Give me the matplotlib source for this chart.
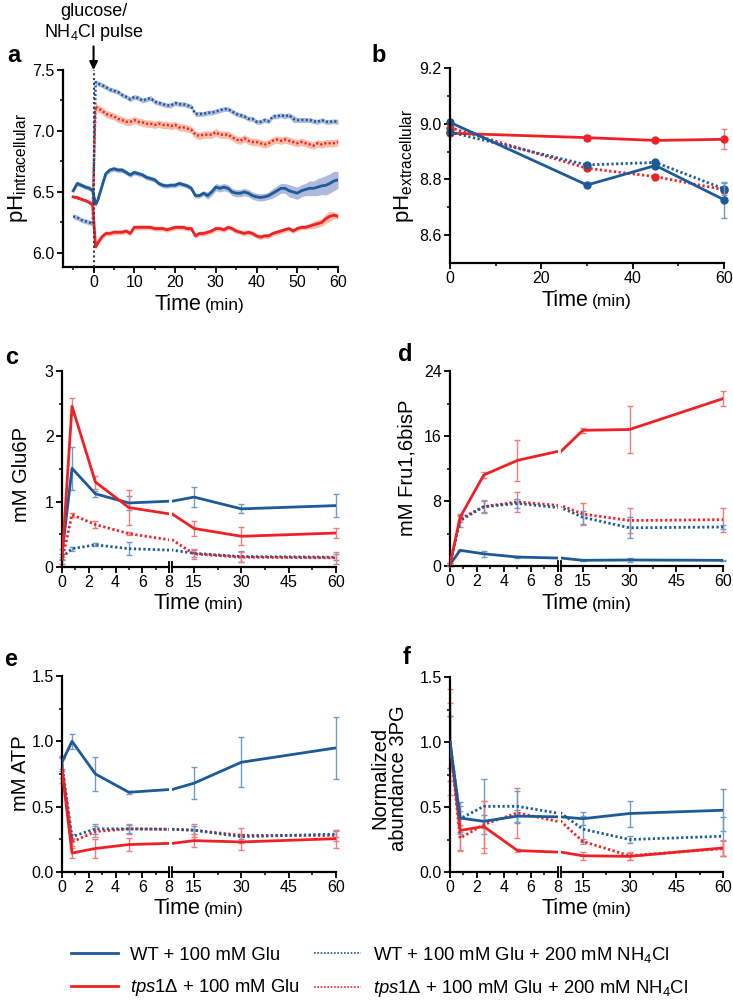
import matplotlib
matplotlib.use("Agg")
import matplotlib.pyplot as plt
from matplotlib.lines import Line2D
from matplotlib.ticker import FixedLocator

plt.rcParams['font.family'] = ['Liberation Sans', 'DejaVu Sans']
plt.rcParams['mathtext.fontset'] = 'custom'
plt.rcParams['mathtext.rm'] = 'Liberation Sans'
plt.rcParams['mathtext.it'] = 'Liberation Sans:italic'
plt.rcParams['mathtext.bf'] = 'Liberation Sans:bold'
plt.rcParams['mathtext.default'] = 'regular'

# ---------------- data ----------------
# panel a: intracellular pH traces (pre-pulse samples, then post-pulse)
time_a = [-5, -4, -3, -2, -1, -0.2, 0.5] + list(range(1, 61))

wt_glu_a = [6.51, 6.57, 6.555, 6.54, 6.53, 6.51, 6.40,
            6.43, 6.54, 6.65, 6.68, 6.69, 6.68, 6.68, 6.66, 6.64, 6.66,
            6.65, 6.64, 6.62, 6.61, 6.60, 6.57, 6.555, 6.55, 6.555, 6.555,
            6.57, 6.56, 6.55, 6.53, 6.47, 6.47, 6.49, 6.47, 6.50, 6.54,
            6.53, 6.54, 6.53, 6.50, 6.49, 6.49, 6.50, 6.49, 6.47, 6.46,
            6.455, 6.46, 6.47, 6.49, 6.51, 6.53, 6.53, 6.51, 6.50, 6.49,
            6.51, 6.52, 6.53, 6.53, 6.54, 6.55, 6.555, 6.57, 6.59, 6.60]
wt_glu_a_err = [0.02, 0.02, 0.02, 0.02, 0.02, 0.02, 0.02,
                0.02, 0.02, 0.02, 0.02, 0.02, 0.02, 0.02, 0.02, 0.02, 0.02,
                0.02, 0.02, 0.02, 0.02, 0.02, 0.02, 0.02, 0.02, 0.02, 0.02,
                0.02, 0.02, 0.02, 0.02, 0.02, 0.02, 0.02, 0.03, 0.03, 0.03,
                0.03, 0.03, 0.03, 0.03, 0.03, 0.03, 0.03, 0.03, 0.03, 0.03,
                0.03, 0.03, 0.03, 0.04, 0.04, 0.04, 0.04, 0.05, 0.05, 0.05,
                0.05, 0.05, 0.06, 0.06, 0.07, 0.07, 0.08, 0.08, 0.08, 0.07]

tps_glu_a = [6.46, 6.455, 6.44, 6.43, 6.415, 6.39, 6.05,
             6.08, 6.13, 6.16, 6.16, 6.17, 6.17, 6.17, 6.18, 6.16, 6.21,
             6.21, 6.21, 6.21, 6.21, 6.20, 6.20, 6.20, 6.19, 6.20, 6.21,
             6.21, 6.21, 6.20, 6.20, 6.14, 6.16, 6.16, 6.17, 6.18, 6.20,
             6.20, 6.19, 6.21, 6.20, 6.18, 6.17, 6.16, 6.17, 6.16, 6.14,
             6.13, 6.14, 6.14, 6.16, 6.17, 6.18, 6.19, 6.20, 6.18, 6.20,
             6.21, 6.21, 6.22, 6.23, 6.24, 6.25, 6.28, 6.30, 6.31, 6.30]
tps_glu_a_err = [0.01, 0.01, 0.01, 0.01, 0.01, 0.01, 0.02,
                 0.02, 0.02, 0.02, 0.02, 0.02, 0.02, 0.02, 0.02, 0.02, 0.02,
                 0.02, 0.02, 0.02, 0.02, 0.02, 0.02, 0.02, 0.02, 0.02, 0.02,
                 0.02, 0.02, 0.02, 0.02, 0.02, 0.02, 0.02, 0.02, 0.02, 0.02,
                 0.02, 0.02, 0.02, 0.02, 0.02, 0.02, 0.02, 0.02, 0.02, 0.02,
                 0.02, 0.02, 0.02, 0.02, 0.02, 0.02, 0.02, 0.02, 0.02, 0.02,
                 0.02, 0.02, 0.02, 0.03, 0.03, 0.03, 0.04, 0.04, 0.03, 0.02]

wt_nh4_a = [6.30, 6.29, 6.27, 6.26, 6.25, 6.24, 7.40,
            7.39, 7.377, 7.36, 7.34, 7.33, 7.32, 7.295, 7.28, 7.26, 7.28,
            7.27, 7.25, 7.26, 7.27, 7.24, 7.23, 7.22, 7.21, 7.21, 7.23,
            7.22, 7.22, 7.21, 7.20, 7.14, 7.14, 7.14, 7.15, 7.15, 7.16,
            7.17, 7.18, 7.18, 7.16, 7.14, 7.13, 7.12, 7.10, 7.10, 7.075,
            7.075, 7.09, 7.08, 7.12, 7.12, 7.13, 7.12, 7.13, 7.10, 7.09,
            7.09, 7.09, 7.09, 7.08, 7.075, 7.09, 7.075, 7.075, 7.08, 7.075]
wt_nh4_a_err = [0.02, 0.02, 0.02, 0.02, 0.02, 0.02, 0.02,
                0.02, 0.02, 0.02, 0.02, 0.02, 0.02, 0.02, 0.02, 0.02, 0.02,
                0.02, 0.02, 0.02, 0.02, 0.02, 0.02, 0.02, 0.02, 0.02, 0.02,
                0.02, 0.02, 0.02, 0.02, 0.02, 0.02, 0.02, 0.02, 0.02, 0.02,
                0.02, 0.02, 0.02, 0.02, 0.02, 0.02, 0.02, 0.02, 0.02, 0.02,
                0.02, 0.02, 0.02, 0.02, 0.02, 0.02, 0.02, 0.02, 0.03, 0.02,
                0.02, 0.02, 0.02, 0.02, 0.02, 0.02, 0.02, 0.02, 0.02, 0.02]

tps_nh4_a = [6.46, 6.45, 6.44, 6.43, 6.41, 6.40, 7.20,
             7.185, 7.17, 7.14, 7.13, 7.12, 7.10, 7.09, 7.075, 7.075, 7.09,
             7.075, 7.07, 7.06, 7.06, 7.05, 7.06, 7.05, 7.05, 7.04, 7.05,
             7.03, 7.03, 7.02, 7.01, 6.97, 6.96, 6.97, 6.97, 6.97, 6.99,
             6.97, 6.97, 6.97, 6.95, 6.93, 6.92, 6.94, 6.92, 6.91, 6.91,
             6.90, 6.89, 6.90, 6.92, 6.93, 6.92, 6.93, 6.92, 6.91, 6.90,
             6.91, 6.90, 6.89, 6.88, 6.90, 6.89, 6.90, 6.90, 6.90, 6.91]
tps_nh4_a_err = [0.01, 0.01, 0.01, 0.01, 0.01, 0.01, 0.03,
                 0.03, 0.03, 0.03, 0.03, 0.03, 0.03, 0.03, 0.03, 0.03, 0.03,
                 0.03, 0.03, 0.03, 0.03, 0.03, 0.03, 0.03, 0.03, 0.03, 0.03,
                 0.03, 0.03, 0.03, 0.03, 0.03, 0.03, 0.03, 0.03, 0.03, 0.03,
                 0.03, 0.03, 0.03, 0.03, 0.03, 0.03, 0.03, 0.03, 0.03, 0.03,
                 0.03, 0.03, 0.03, 0.03, 0.03, 0.03, 0.03, 0.03, 0.03, 0.03,
                 0.03, 0.03, 0.03, 0.03, 0.03, 0.03, 0.03, 0.03, 0.03, 0.03]

# panel b: extracellular pH
time_b = [0, 30, 45, 60]
wt_glu_b = [9.005, 8.78, 8.85, 8.727]
wt_glu_b_err = [0.005, 0.005, 0.005, 0.065]
tps_glu_b = [8.966, 8.95, 8.94, 8.944]
tps_glu_b_err = [0.005, 0.008, 0.006, 0.036]
wt_nh4_b = [8.97, 8.852, 8.861, 8.766]
wt_nh4_b_err = [0.005, 0.006, 0.006, 0.022]
tps_nh4_b = [8.986, 8.84, 8.81, 8.763]
tps_nh4_b_err = [0.005, 0.005, 0.005, 0.01]

# panels c-f: metabolites
time_m = [0, 0.75, 2.5, 5, 15, 30, 60]

wt_glu_c = [0.20, 1.51, 1.12, 0.98, 1.07, 0.89, 0.94]
wt_glu_c_err = [0.08, 0.33, 0.05, 0.10, 0.15, 0.07, 0.18]
tps_glu_c = [0.12, 2.46, 1.30, 0.91, 0.59, 0.47, 0.52]
tps_glu_c_err = [0.08, 0.13, 0.10, 0.27, 0.11, 0.14, 0.07]
wt_nh4_c = [0.15, 0.28, 0.34, 0.28, 0.21, 0.16, 0.15]
wt_nh4_c_err = [0.05, 0.03, 0.02, 0.10, 0.05, 0.08, 0.05]
tps_nh4_c = [0.10, 0.80, 0.65, 0.51, 0.20, 0.15, 0.14]
tps_nh4_c_err = [0.05, 0.03, 0.06, 0.02, 0.08, 0.08, 0.09]

wt_glu_d = [0.2, 1.93, 1.5, 1.1, 0.7, 0.74, 0.7]
wt_glu_d_err = [0.2, 0.1, 0.4, 0.1, 0.1, 0.3, 0.1]
tps_glu_d = [0.2, 6.0, 11.2, 13.0, 16.7, 16.8, 20.6]
tps_glu_d_err = [0.2, 0.3, 0.4, 2.5, 0.3, 2.9, 0.95]
wt_nh4_d = [0.2, 5.6, 7.3, 7.7, 6.0, 4.7, 4.8]
wt_nh4_d_err = [0.2, 0.8, 0.7, 0.6, 0.8, 1.3, 0.2]
tps_nh4_d = [0.2, 5.8, 7.3, 7.9, 6.4, 5.6, 5.7]
tps_nh4_d_err = [0.2, 0.4, 0.8, 1.2, 1.3, 1.5, 1.5]

wt_glu_e = [0.84, 1.00, 0.75, 0.61, 0.68, 0.84, 0.95]
wt_glu_e_err = [0.05, 0.055, 0.13, 0.01, 0.12, 0.19, 0.24]
tps_glu_e = [0.78, 0.145, 0.18, 0.21, 0.24, 0.23, 0.255]
tps_glu_e_err = [0.10, 0.04, 0.07, 0.05, 0.05, 0.06, 0.07]
wt_nh4_e = [0.82, 0.27, 0.33, 0.33, 0.32, 0.27, 0.29]
wt_nh4_e_err = [0.05, 0.02, 0.04, 0.03, 0.03, 0.02, 0.02]
tps_nh4_e = [0.80, 0.23, 0.31, 0.33, 0.32, 0.28, 0.28]
tps_nh4_e_err = [0.08, 0.03, 0.04, 0.04, 0.05, 0.06, 0.04]

wt_glu_f = [1.0, 0.415, 0.39, 0.43, 0.41, 0.45, 0.475]
wt_glu_f_err = [0.2, 0.12, 0.05, 0.05, 0.05, 0.10, 0.16]
tps_glu_f = [1.0, 0.32, 0.35, 0.165, 0.125, 0.12, 0.185]
tps_glu_f_err = [0.41, 0.15, 0.20, 0.01, 0.03, 0.03, 0.06]
wt_nh4_f = [1.0, 0.41, 0.505, 0.505, 0.33, 0.25, 0.275]
wt_nh4_f_err = [0.2, 0.10, 0.21, 0.12, 0.10, 0.03, 0.15]
tps_nh4_f = [1.0, 0.26, 0.365, 0.455, 0.235, 0.125, 0.18]
tps_nh4_f_err = [0.3, 0.10, 0.18, 0.19, 0.02, 0.03, 0.06]

# ---------------- style ----------------
BLUE = '#1c5a98'
RED = '#ee2226'
BLUE_ERR = '#6f9ccb'
RED_ERR = '#f27c7c'
BLUE_BAND = '#9aa8d4'
RED_BAND = '#f8ab90'
DOT = (0, (0.8, 0.9))

styles = {
    'wt_glu': (BLUE, BLUE_ERR, BLUE_BAND, '-'),
    'tps_glu': (RED, RED_ERR, RED_BAND, '-'),
    'wt_nh4': (BLUE, BLUE_ERR, BLUE_BAND, DOT),
    'tps_nh4': (RED, RED_ERR, RED_BAND, DOT),
}

W, H = 733, 1002
TICK_FS = 11.5
LABEL_FS = 14.5

fig = plt.figure(figsize=(W / 100, H / 100), dpi=100)


def box(l, r, t, b):
    return [l / W, 1 - b / H, (r - l) / W, (b - t) / H]


def style_axes(ax):
    for s in ('top', 'right'):
        ax.spines[s].set_visible(False)
    for s in ('left', 'bottom'):
        ax.spines[s].set_linewidth(1.6)
    ax.tick_params(which='major', direction='out', length=4, width=1.3,
                   labelsize=TICK_FS, pad=2)
    ax.tick_params(which='minor', direction='out', length=2.5, width=1.1)
    ax.set_facecolor('none')


def time_label(cx, base_y):
    fig.text((cx + 1) / W, 1 - base_y / H, 'Time', fontsize=15.5,
             ha='right', va='baseline')
    fig.text((cx + 5) / W, 1 - base_y / H, '(min)', fontsize=12.5,
             ha='left', va='baseline')


def ylabel(text, cx, cy, fs=LABEL_FS):
    fig.text(cx / W, 1 - cy / H, text, rotation=90, fontsize=fs,
             ha='center', va='center', linespacing=1.0)


def broken_axes(left, split, right, top, bottom, ylim, ymajor, yminor):
    ax1 = fig.add_axes(box(left, split, top, bottom))
    ax2 = fig.add_axes(box(split + 3, right, top, bottom))
    for ax in (ax1, ax2):
        style_axes(ax)
        ax.set_ylim(*ylim)
    ax1.set_xlim(0, 8)
    ax2.set_xlim(8, 60)
    ax1.xaxis.set_major_locator(FixedLocator([0, 2, 4, 6, 8]))
    ax1.xaxis.set_minor_locator(FixedLocator([1, 3, 5, 7]))
    ax2.xaxis.set_major_locator(FixedLocator([15, 30, 45, 60]))
    ax2.xaxis.set_minor_locator(FixedLocator([22.5, 37.5, 52.5]))
    ax1.yaxis.set_major_locator(FixedLocator(ymajor))
    ax1.yaxis.set_minor_locator(FixedLocator(yminor))
    ax2.spines['left'].set_visible(False)
    ax2.tick_params(axis='y', which='both', left=False, labelleft=False)
    # break marks
    d = 5 / (bottom - top)
    ax1.plot([1, 1], [-d, d], transform=ax1.transAxes, color='black',
             lw=1.3, clip_on=False)
    ax2.plot([0, 0], [-d, d], transform=ax2.transAxes, color='black',
             lw=1.3, clip_on=False)
    return ax1, ax2


def metabolite_panel(axes, series):
    for ax in axes:
        lo, hi = ax.get_xlim()
        for key, vals, errs in series:
            color, ecol, _, ls = styles[key]
            ax.plot(time_m, vals, color=color, ls=ls, lw=2, zorder=3)
            sel = [i for i, t in enumerate(time_m) if lo <= t <= hi]
            ax.errorbar([time_m[i] for i in sel], [vals[i] for i in sel],
                        yerr=[errs[i] for i in sel], fmt='none', ecolor=ecol,
                        elinewidth=1, capsize=2.5, capthick=1, zorder=2,
                        clip_on=False)


# ---------------- panel a ----------------
ax_a = fig.add_axes(box(63, 338, 70, 267))
style_axes(ax_a)
for key, vals, errs in [('wt_nh4', wt_nh4_a, wt_nh4_a_err),
                        ('tps_nh4', tps_nh4_a, tps_nh4_a_err),
                        ('wt_glu', wt_glu_a, wt_glu_a_err),
                        ('tps_glu', tps_glu_a, tps_glu_a_err)]:
    color, _, band, ls = styles[key]
    lower = [v - e for v, e in zip(vals, errs)]
    upper = [v + e for v, e in zip(vals, errs)]
    ax_a.fill_between(time_a, lower, upper, color=band, lw=0, alpha=0.8)
    ax_a.plot(time_a, vals, color=color, ls=ls, lw=2 if ls == '-' else 1.8)
ax_a.axvline(0, color='#3a3a4a', ls=(0, (1, 1.3)), lw=1.5, zorder=5)
ax_a.set_xlim(-7.5, 60)
ax_a.set_ylim(5.885, 7.5)
ax_a.xaxis.set_major_locator(FixedLocator([0, 10, 20, 30, 40, 50, 60]))
ax_a.xaxis.set_minor_locator(FixedLocator([-5, 5, 15, 25, 35, 45, 55]))
ax_a.yaxis.set_major_locator(FixedLocator([6.0, 6.5, 7.0, 7.5]))
ax_a.yaxis.set_minor_locator(FixedLocator([6.25, 6.75, 7.25]))
ax_a.annotate('', xy=(0, 7.5), xytext=(0, 17), textcoords='offset points',
              arrowprops=dict(arrowstyle='-|>', color='black', lw=1.5,
                              mutation_scale=12, shrinkA=0, shrinkB=0),
              annotation_clip=False)
fig.text(94 / W, 1 - 23 / H, 'glucose/\nNH$_4$Cl pulse', fontsize=13,
         ha='center', va='center', linespacing=1.15)
ylabel('pH$_{\\mathrm{intracellular}}$', 18, 168, fs=16)
time_label(200, 310)

# ---------------- panel b ----------------
ax_b = fig.add_axes(box(450, 724, 68, 263))
style_axes(ax_b)
for key, vals, errs in [('tps_glu', tps_glu_b, tps_glu_b_err),
                        ('tps_nh4', tps_nh4_b, tps_nh4_b_err),
                        ('wt_nh4', wt_nh4_b, wt_nh4_b_err),
                        ('wt_glu', wt_glu_b, wt_glu_b_err)]:
    color, ecol, _, ls = styles[key]
    ax_b.errorbar(time_b, vals, yerr=errs, fmt='none', ecolor=ecol,
                  elinewidth=1, capsize=2.5, capthick=1, clip_on=False)
    ax_b.plot(time_b, vals, color=color, ls=ls, lw=2, marker='o',
              markersize=5, clip_on=False)
ax_b.set_xlim(0, 60)
ax_b.set_ylim(8.5, 9.2)
ax_b.xaxis.set_major_locator(FixedLocator([0, 20, 40, 60]))
ax_b.xaxis.set_minor_locator(FixedLocator([10, 30, 50]))
ax_b.yaxis.set_major_locator(FixedLocator([8.6, 8.8, 9.0, 9.2]))
ax_b.yaxis.set_minor_locator(FixedLocator([8.7, 8.9, 9.1]))
ylabel('pH$_{\\mathrm{extracellular}}$', 404, 166, fs=16)
time_label(587, 306)

# ---------------- panel c ----------------
axes_c = broken_axes(62, 169, 336, 371, 567, (0, 3), [0, 1, 2, 3],
                     [0.5, 1.5, 2.5])
metabolite_panel(axes_c, [('wt_nh4', wt_nh4_c, wt_nh4_c_err),
                          ('tps_nh4', tps_nh4_c, tps_nh4_c_err),
                          ('wt_glu', wt_glu_c, wt_glu_c_err),
                          ('tps_glu', tps_glu_c, tps_glu_c_err)])
ylabel('mM Glu6P', 22, 475)
time_label(199, 609)

# ---------------- panel d ----------------
axes_d = broken_axes(450, 558, 723, 371, 566, (0, 24), [0, 8, 16, 24],
                     [4, 12, 20])
metabolite_panel(axes_d, [('wt_glu', wt_glu_d, wt_glu_d_err),
                          ('tps_nh4', tps_nh4_d, tps_nh4_d_err),
                          ('wt_nh4', wt_nh4_d, wt_nh4_d_err),
                          ('tps_glu', tps_glu_d, tps_glu_d_err)])
ylabel('mM Fru1,6bisP', 407, 468)
time_label(587, 609)

# ---------------- panel e ----------------
axes_e = broken_axes(62, 169, 336, 676, 872, (0, 1.5), [0, 0.5, 1.0, 1.5],
                     [0.25, 0.75, 1.25])
metabolite_panel(axes_e, [('tps_nh4', tps_nh4_e, tps_nh4_e_err),
                          ('wt_nh4', wt_nh4_e, wt_nh4_e_err),
                          ('tps_glu', tps_glu_e, tps_glu_e_err),
                          ('wt_glu', wt_glu_e, wt_glu_e_err)])
ylabel('mM ATP', 20, 773)
time_label(199, 914)

# ---------------- panel f ----------------
axes_f = broken_axes(450, 558, 723, 677, 872, (0, 1.5), [0, 0.5, 1.0, 1.5],
                     [0.25, 0.75, 1.25])
metabolite_panel(axes_f, [('tps_nh4', tps_nh4_f, tps_nh4_f_err),
                          ('wt_nh4', wt_nh4_f, wt_nh4_f_err),
                          ('tps_glu', tps_glu_f, tps_glu_f_err),
                          ('wt_glu', wt_glu_f, wt_glu_f_err)])
ylabel('Normalized\nabundance 3PG', 389, 778)
time_label(587, 914)

# ---------------- panel letters ----------------
for letter, x, y in [('a', 14, 55), ('b', 379, 55), ('c', 12, 357),
                     ('d', 405, 355), ('e', 11, 660), ('f', 407, 658)]:
    fig.text(x / W, 1 - y / H, letter, fontsize=17, fontweight='bold',
             ha='center', va='center')

# ---------------- legend ----------------
handles = [Line2D([], [], color=BLUE, lw=2),
           Line2D([], [], color=RED, lw=2),
           Line2D([], [], color=BLUE, lw=1.2, ls=(0, (1, 1))),
           Line2D([], [], color=RED, lw=1.2, ls=(0, (1, 1)))]
labels = ['WT + 100 mM Glu',
          '$\\mathit{tps1Δ}$ + 100 mM Glu',
          'WT + 100 mM Glu + 200 mM NH$_4$Cl',
          '$\\mathit{tps1Δ}$ + 100 mM Glu + 200 mM NH$_4$Cl']
fig.legend(handles, labels, ncol=2, loc='center left',
           bbox_to_anchor=(54 / W, 1 - 972 / H), frameon=False,
           fontsize=13.3, handlelength=2.55, handletextpad=0.65,
           columnspacing=0.75, labelspacing=0.75)

fig.savefig('out.png', dpi=100)
